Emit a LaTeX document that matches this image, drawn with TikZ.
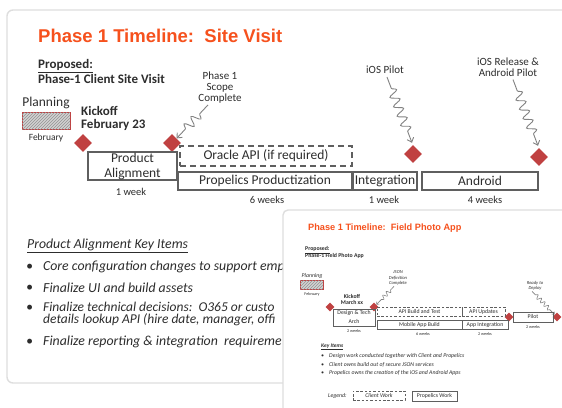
\documentclass[tikz,border=0pt]{standalone}
\usepackage{fontspec}
\setmainfont{Carlito}
\newfontfamily\titlefont{Liberation Sans}
\usetikzlibrary{shapes.geometric,patterns,decorations.pathmorphing,arrows.meta,calc}
\definecolor{orng}{RGB}{246,81,29}
\definecolor{dred}{RGB}{192,65,65}
\definecolor{ink}{RGB}{45,45,45}
\definecolor{boxc}{RGB}{95,95,95}
\definecolor{cardc}{RGB}{222,222,222}
\definecolor{squigc}{RGB}{130,130,130}
\begin{document}
\begin{tikzpicture}[x=1pt,y=-1pt,
  every node/.style={inner sep=0pt,text=ink},
  ttl/.style={font=\titlefont\bfseries\fontsize{18.5}{20}\selectfont,text=orng,anchor=west},
  hand/.style={font=\fontsize{13.5}{14}\selectfont},
  handb/.style={font=\bfseries\fontsize{13}{13}\selectfont},
  lbl/.style={font=\fontsize{10.5}{11}\selectfont},
  item/.style={font=\itshape\fontsize{13.8}{14}\selectfont,anchor=west},
  box/.style={draw=boxc,line width=1.1pt,align=center,font=\fontsize{13.5}{15}\selectfont},
  dbox/.style={box,dash pattern=on 6pt off 4pt},
  dia/.style={diamond,fill=dred,minimum width=#1,minimum height=#1,aspect=1,inner sep=0pt},
  hatch/.style={draw=dred,line width=0.8pt,fill=gray!35,postaction={pattern=north east lines,pattern color=gray!85}},
  squig/.style={draw=squigc,line width=0.9pt,decorate,
     decoration={snake,amplitude=4.5pt,segment length=10pt,pre length=12pt,post length=10pt},
     -{Straight Barb[length=4pt,width=7pt]}},
  card/.style={draw=cardc,line width=1.4pt,rounded corners=6pt,fill=white},
  % inset styles
  tinyb/.style={font=\bfseries\fontsize{5.8}{6}\selectfont},
  tinyi/.style={font=\itshape\fontsize{5.8}{6}\selectfont},
  wk/.style={font=\fontsize{4.2}{5}\selectfont},
  sbox/.style={draw=boxc,line width=0.6pt,align=center,font=\fontsize{5.8}{9}\selectfont},
  sdbox/.style={sbox,dash pattern=on 2.5pt off 1.8pt},
  ssquig/.style={draw=squigc,line width=0.6pt,decorate,
     decoration={snake,amplitude=2pt,segment length=5pt,pre length=5pt,post length=5pt},
     -{Straight Barb[length=2pt,width=3.5pt]}}
]
\useasboundingbox (0,0) rectangle (562,407);
\clip (0,0) rectangle (562,407);
\fill[white] (0,0) rectangle (562,407);

% ---------- main card ----------
\draw[card] (7,10) rectangle (640,383);
\node[ttl] (t1) at (38,36) {Phase 1 Timeline:\ \ Site Visit};
\node[handb,anchor=north west,align=left,font=\bfseries\fontsize{13}{15}\selectfont] (prop) at (38,59) {\underline{Proposed:}\\Phase-1 Client Site Visit};

\node[hand] (plan) at (46,103) {Planning};
\node[hatch,minimum width=48pt,minimum height=17pt] (planbox) at (46,120.5) {};
\node[font=\fontsize{9.5}{10}\selectfont] (feb) at (46,138) {February};

\node[handb,anchor=north west,align=left] (ko) at (81,106) {Kickoff\\February 23};

\node[dia=18pt] (k1) at (83,143) {};
\node[dia=18pt] (k2) at (172,143) {};
\node[dia=18pt] (p1) at (413,154) {};
\node[dia=18pt] (p2) at (539,157) {};

\node[lbl,align=center,font=\fontsize{11}{11}\selectfont] (scope) at (220,88) {Phase 1\\Scope\\Complete};
\node[lbl,font=\fontsize{11}{11}\selectfont] (iosp) at (385,70) {iOS Pilot};
\node[lbl,align=center,font=\fontsize{11}{11}\selectfont] (iosr) at (508,67) {iOS Release \&\\Android Pilot};

\draw[squig] ($(scope.south)+(-12,1)$) -- (k2.north east);
\draw[squig] ($(iosp.south)+(2,3)$) -- ($(p1.north)+(-1,-2)$);
\draw[squig] ($(iosr.south)+(5,3)$) -- ($(p2.north)+(-1,-2)$);

\node[box,minimum width=89pt,minimum height=28pt] (pa) at (132.5,166) {Product\\Alignment};
\node[dbox,minimum width=172pt,minimum height=20pt] (ora) at (266,156) {Oracle API (if required)};
\node[box,minimum width=174pt,minimum height=18pt] (ppz) at (265,181) {Propelics Productization};
\node[box,minimum width=64pt,minimum height=18pt] (intg) at (385,181) {Integration};
\node[box,minimum width=116pt,minimum height=18pt] (andr) at (480,181) {Android};

\node[lbl] (w1) at (131,192) {1 week};
\node[lbl] (w6) at (267,200) {6 weeks};
\node[lbl] (w1b) at (384,200) {1 week};
\node[lbl] (w4) at (485,200) {4 weeks};

\node[item] (kih) at (27,246) {\underline{Product Alignment Key Items}};
\node[item] (bu1) at (26,267) {•};
\node[item] (bu2) at (26,288) {•};
\node[item] (bu3) at (26,308) {•};
\node[item] (bu4) at (26,342) {•};
\node[item] (i1) at (43,267) {Core configuration changes to support emp};
\node[item] (i2) at (43,288) {Finalize UI and build assets};
\node[item,align=left,font=\itshape\fontsize{13.5}{12.5}\selectfont] (i3) at (43,314) {Finalize technical decisions:\ \ O365 or custo\\details lookup API (hire date, manager, offi};
\node[item] (i4) at (43,342) {Finalize reporting \& integration\ \ requireme};

% ---------- inset card ----------
\draw[card,rounded corners=5pt] (283,210) rectangle (660,460);
\node[ttl,font=\titlefont\bfseries\fontsize{9.2}{10}\selectfont] (t2) at (308,228) {Phase 1 Timeline:\ \ Field Photo App};
\node[tinyb,anchor=north west,align=left,font=\bfseries\fontsize{5.8}{7}\selectfont] (sprop) at (305,246.5) {\underline{Proposed:}\\Phase-1 Field Photo App};

\node[tinyi] (splan) at (312,276) {Planning};
\node[hatch,line width=0.5pt,minimum width=23pt,minimum height=9pt] (splanbox) at (311.5,284.5) {};
\node[wk] (sfeb) at (312,294) {February};

\node[tinyb,align=center,font=\bfseries\fontsize{5.8}{5.6}\selectfont] (sko) at (352,299.5) {Kickoff\\March xx};

\node[dia=9pt] (d1) at (330,307) {};
\node[dia=9pt] (d2) at (374,307) {};
\node[dia=9pt] (d3) at (509,317) {};
\node[dia=9pt] (d4) at (557,317) {};

\node[align=center,font=\itshape\fontsize{4.6}{5.3}\selectfont] (json) at (398,278) {JSON\\Definition\\Complete};
\node[align=center,font=\itshape\fontsize{4.6}{5.3}\selectfont] (rdy) at (535,285.5) {Ready to\\Deploy};
\draw[ssquig] ($(json.south)+(-4,1)$) -- (d2.north east);
\draw[ssquig] ($(rdy.south)+(-3,1)$) -- (d4.north west);

\node[sbox,minimum width=42pt,minimum height=17pt] (dta) at (354,317.5) {Design \& Tech\\Arch};
\node[sdbox,minimum width=85pt,minimum height=9pt] (abt) at (419.5,311.5) {API Build and Test};
\node[sdbox,minimum width=43pt,minimum height=9pt] (aup) at (483.5,311.5) {API Updates};
\node[sbox,minimum width=85pt,minimum height=9pt] (mab) at (419.5,324.5) {Mobile App Build};
\node[sbox,minimum width=46pt,minimum height=9pt] (aint) at (485,324.5) {App Integration};
\node[sbox,minimum width=40pt,minimum height=10pt] (pil) at (533,317) {Pilot};

\node[wk] (sw1) at (354,331) {2 weeks};
\node[wk] (sw2) at (423,334) {6 weeks};
\node[wk] (sw3) at (485,334) {2 weeks};
\node[wk] (sw4) at (533,327) {2 weeks};

\node[tinyi,font=\bfseries\itshape\fontsize{5.5}{6}\selectfont,anchor=west] (ski) at (321,347) {\underline{Key Items}};
\node[tinyi,anchor=west] (sb1) at (321,356) {•};
\node[tinyi,anchor=west] (sb2) at (321,365) {•};
\node[tinyi,anchor=west] (sb3) at (321,373) {•};
\node[tinyi,anchor=west] (sk1) at (329,356) {Design work conducted together with Client and Propelics};
\node[tinyi,anchor=west] (sk2) at (329,365) {Client owns build out of secure JSON services};
\node[tinyi,anchor=west] (sk3) at (329,373) {Propelics owns the creation of the iOS and Android Apps};

\node[tinyi,anchor=west] (leg) at (328,396) {Legend:};
\node[sdbox,minimum width=52pt,minimum height=9pt] (lcw) at (379,395.5) {\itshape Client Work};
\node[sbox,minimum width=45pt,minimum height=10pt] (lpw) at (434.5,396) {Propelics Work};
\end{tikzpicture}
\end{document}
